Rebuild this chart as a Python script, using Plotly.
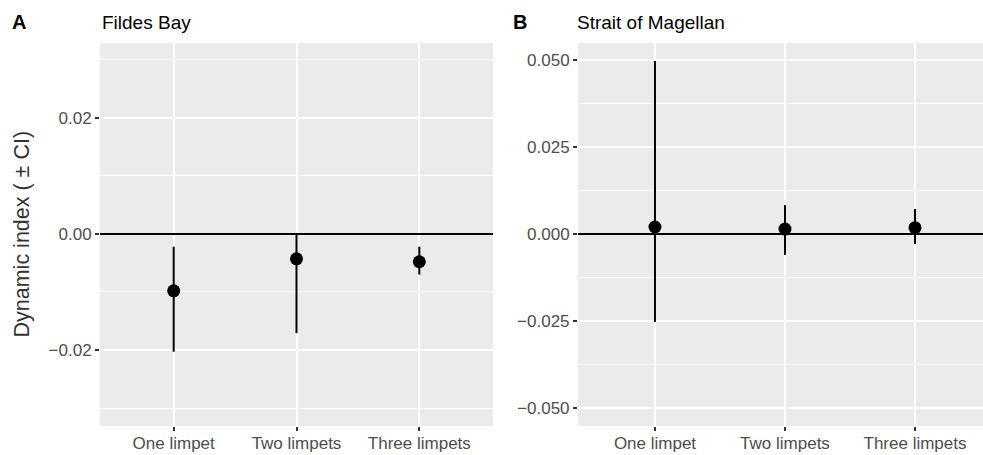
import plotly.graph_objects as go

categories = ["One limpet", "Two limpets", "Three limpets"]

fildes_mean = [-0.0098, -0.0043, -0.0048]
fildes_lower = [-0.0203, -0.0171, -0.0070]
fildes_upper = [-0.0022, -0.0002, -0.0022]

magellan_mean = [0.0020, 0.0014, 0.0018]
magellan_lower = [-0.0253, -0.0060, -0.0029]
magellan_upper = [0.0497, 0.0083, 0.0072]

fildes_ticks = [-0.02, 0.0, 0.02]
magellan_ticks = [-0.05, -0.025, 0.0, 0.025, 0.05]

W, H = 983, 455
ML, MR, MT, MB = 100, 0, 43, 29
PW = W - ML - MR
PH = H - MT - MB


def px_x(px):
    return (px - ML) / PW


def px_y(py):
    return (H - MB - py) / PH


fig = go.Figure()


def add_panel(means, lows, ups, xa, ya):
    fig.add_trace(go.Scatter(
        x=categories, y=means, mode="markers",
        xaxis=xa, yaxis=ya,
        marker=dict(color="black", size=13),
        error_y=dict(type="data", symmetric=False,
                     array=[u - m for u, m in zip(ups, means)],
                     arrayminus=[m - l for m, l in zip(means, lows)],
                     width=0, thickness=2, color="black"),
        showlegend=False, hoverinfo="skip",
    ))


add_panel(fildes_mean, fildes_lower, fildes_upper, "x", "y")
add_panel(magellan_mean, magellan_lower, magellan_upper, "x2", "y2")

FONT = "Liberation Sans, Arial, sans-serif"
tickfont = dict(family=FONT, size=17, color="#4D4D4D")

xcommon = dict(type="category", showgrid=True, gridcolor="white", gridwidth=1.5,
               ticks="outside", ticklen=4, tickwidth=1.5, tickcolor="#333333",
               tickfont=tickfont, showline=False, zeroline=False, fixedrange=True,
               ticklabelstandoff=-2)
ycommon = dict(showgrid=True, gridcolor="white", gridwidth=1.5,
               ticks="outside", ticklen=4, tickwidth=1.5, tickcolor="#333333",
               tickfont=tickfont, showline=False,
               zeroline=True, zerolinecolor="black", zerolinewidth=1.8,
               fixedrange=True)

x1_dom = [0, px_x(493)]
x2_dom = [px_x(578), 1]

fig.update_layout(
    width=W, height=H,
    margin=dict(l=ML, r=MR, t=MT, b=MB),
    paper_bgcolor="white",
    plot_bgcolor="#EBEBEB",
    font=dict(family=FONT),
    xaxis=dict(xcommon, domain=x1_dom, range=[-0.6, 2.6], anchor="y"),
    yaxis=dict(ycommon, domain=[0, 1], range=[-0.0331, 0.0329], anchor="x",
               tickvals=fildes_ticks, tickformat=".2f",
               minor=dict(dtick=0.01, tick0=0, showgrid=True, gridcolor="white", gridwidth=0.8, ticks="")),
    xaxis2=dict(xcommon, domain=x2_dom, range=[-0.592, 2.523], anchor="y2"),
    yaxis2=dict(ycommon, domain=[0, 1], range=[-0.0552, 0.0549], anchor="x2",
                tickvals=magellan_ticks, tickformat=".3f",
                minor=dict(dtick=0.0125, tick0=0, showgrid=True, gridcolor="white", gridwidth=0.8, ticks="")),
)

ann_font_title = dict(family=FONT, size=19, color="black")
ann_font_tag = dict(family=FONT, size=20, color="black")

fig.add_annotation(x=px_x(10), y=px_y(22), xref="paper", yref="paper", text="<b>A</b>",
                   showarrow=False, xanchor="left", yanchor="middle", font=ann_font_tag)
fig.add_annotation(x=px_x(100), y=px_y(22), xref="paper", yref="paper", text="Fildes Bay",
                   showarrow=False, xanchor="left", yanchor="middle", font=ann_font_title)
fig.add_annotation(x=px_x(511), y=px_y(22), xref="paper", yref="paper", text="<b>B</b>",
                   showarrow=False, xanchor="left", yanchor="middle", font=ann_font_tag)
fig.add_annotation(x=px_x(575), y=px_y(22), xref="paper", yref="paper", text="Strait of Magellan",
                   showarrow=False, xanchor="left", yanchor="middle", font=ann_font_title)
fig.add_annotation(x=px_x(21), y=0.5, xref="paper", yref="paper", text="Dynamic index ( ± CI)",
                   showarrow=False, textangle=-90, xanchor="center", yanchor="middle",
                   font=dict(family=FONT, size=21.5, color="#333333"))

fig.write_html("out.html", config={"displayModeBar": False},
               post_script="document.body.style.margin='0';document.body.style.overflow='hidden';")
